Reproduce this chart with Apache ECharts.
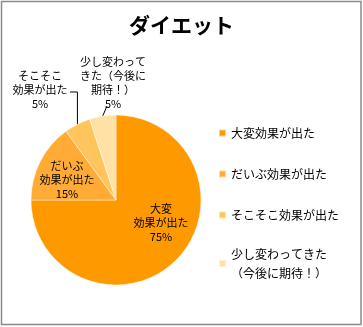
<!DOCTYPE html>
<html>
<head>
<meta charset="utf-8">
<script src="https://cdn.jsdelivr.net/npm/echarts@6/dist/echarts.min.js"></script>
<style>
  html, body { margin: 0; padding: 0; background: #fff; }
  #chart { width: 363px; height: 327px; }
</style>
</head>
<body>
<div id="chart"></div>
<script>
// Survey results: how well the diet worked
const categories = [
  '大変効果が出た',
  'だいぶ効果が出た',
  'そこそこ効果が出た',
  '少し変わってきた（今後に期待！）'
];
const sliceLabels = [
  '大変\n効果が出た',
  'だいぶ\n効果が出た',
  'そこそこ\n効果が出た',
  '少し変わって\nきた（今後に\n期待！）'
];
const legendLabels = [
  '大変効果が出た',
  'だいぶ効果が出た',
  'そこそこ効果が出た',
  '少し変わってきた\n（今後に期待！）'
];
const shares = [75, 15, 5, 5];

const palette = ['#FF9900', '#FFAB35', '#FFC55C', '#FFE1A6'];
const FONT = '"Noto Sans CJK JP", "Noto Sans", sans-serif';

// where each slice label sits (centre of the text block)
const labelSpots = [[161, 223], [67, 180], [40, 90], [113, 83]];

const chart = echarts.init(document.getElementById('chart'), null, { renderer: 'canvas' });

const legendText = {};
categories.forEach((c, i) => { legendText[c] = legendLabels[i]; });

chart.setOption({
  animation: false,
  backgroundColor: '#fff',
  color: palette,
  title: {
    text: 'ダイエット',
    left: 'center',
    top: 10,
    textStyle: { fontFamily: FONT, fontSize: 21, fontWeight: 'bold', color: '#000' }
  },
  legend: [
    {
      orient: 'vertical',
      left: 218,
      top: 126,
      padding: 0,
      itemWidth: 7,
      itemHeight: 7,
      itemGap: 27,
      icon: 'rect',
      selectedMode: false,
      data: categories.slice(0, 3),
      formatter: n => legendText[n],
      textStyle: { fontFamily: FONT, fontSize: 12, lineHeight: 14, color: '#000' }
    },
    {
      orient: 'vertical',
      left: 218,
      top: 235,
      padding: 0,
      itemWidth: 7,
      itemHeight: 7,
      icon: 'rect',
      selectedMode: false,
      data: categories.slice(3),
      formatter: n => legendText[n],
      textStyle: { fontFamily: FONT, fontSize: 12, lineHeight: 19, color: '#000', padding: [19, 0, 0, 0] }
    }
  ],
  graphic: [{
    type: 'rect',
    shape: { x: 1.5, y: 1.5, width: 359.5, height: 323 },
    style: { fill: null, stroke: '#8a8a8a', lineWidth: 1.5 },
    silent: true,
    z: 100
  }],
  series: [{
    type: 'pie',
    center: [116, 200],
    radius: [0, 85],
    startAngle: 90,
    clockwise: true,
    avoidLabelOverlap: false,
    itemStyle: { borderColor: 'rgba(255,255,255,0.55)', borderWidth: 0.8 },
    label: {
      show: true,
      position: 'outside',
      overflow: 'none',
      fontFamily: FONT,
      fontSize: 11,
      lineHeight: 14,
      color: '#000',
      formatter: p => sliceLabels[p.dataIndex] + '\n' + p.value + '%'
    },
    labelLine: {
      show: true,
      length: 10,
      length2: 10,
      lineStyle: { color: '#000', width: 1 }
    },
    labelLayout: function (p) {
      const i = p.dataIndex;
      const spot = labelSpots[i];
      const out = { x: spot[0], y: spot[1], align: 'center', verticalAlign: 'middle' };
      const a = p.labelLinePoints && p.labelLinePoints[0];
      if (a && i === 2) {
        out.labelLinePoints = [[a[0], a[1]], [a[0], 92], [70, 92]];
      } else if (a && i === 3) {
        out.labelLinePoints = [[a[0], a[1]], [107, 106]];
      }
      return out;
    },
    data: categories.map((c, i) => ({
      name: c,
      value: shares[i],
      labelLine: { show: i >= 2 }
    }))
  }]
});
</script>
</body>
</html>
